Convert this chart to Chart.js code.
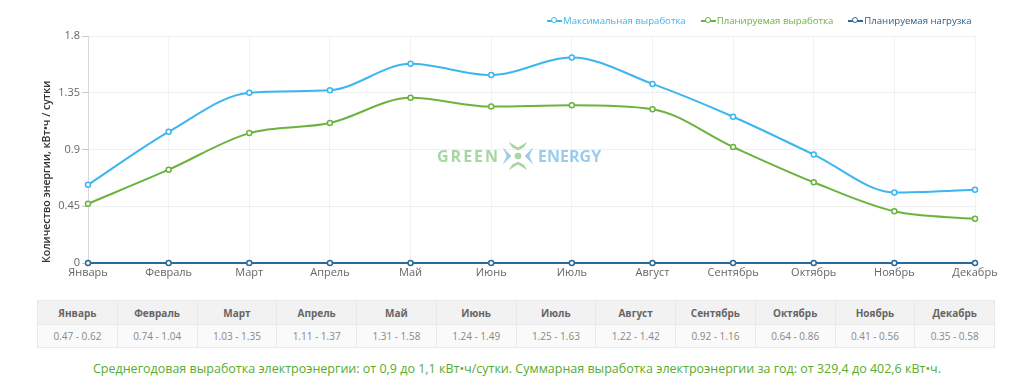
<!DOCTYPE html>
<html><head><meta charset="utf-8">
<script src="https://cdn.jsdelivr.net/npm/chart.js@4.4.1/dist/chart.umd.min.js"></script>
<style>
html,body{margin:0;padding:0;background:#fff;width:1024px;height:392px;overflow:hidden;font-family:"Open Sans",sans-serif;}
#wrap{position:absolute;left:0;top:0;width:1024px;height:290px;}
#legend{position:absolute;top:14px;left:547px;height:16px;font-size:9.6px;white-space:nowrap;}
#legend span.it{display:inline-flex;align-items:center;margin-right:15px;}
#legend span.mk{position:relative;display:inline-block;width:15px;height:10px;margin-right:1px;}
#legend span.mk i{position:absolute;left:0;top:4px;width:15px;height:2px;}
#legend span.mk b{position:absolute;left:4px;top:1.5px;width:4px;height:4px;border-radius:50%;background:#fff;border:1.5px solid;}
#wm{position:absolute;left:437px;top:139px;font-weight:700;font-size:16px;opacity:0.55;display:flex;align-items:center;}
#tbl{position:absolute;left:37px;top:300px;width:958px;border-collapse:collapse;table-layout:fixed;font-size:10px;}
#tbl td{border:1px solid #e9e9e9;text-align:center;padding:0;}
#tbl tr.h td{background:#f2f2f2;color:#666;font-weight:700;height:23px;}
#tbl tr.v td{background:#fafafa;color:#888;height:22px;}
#note{position:absolute;left:10px;width:1014px;top:360px;text-align:center;color:#58ac2e;font-size:12.5px;}
</style></head>
<body>
<div id="wrap"><canvas id="c" width="1024" height="290"></canvas></div>
<div id="legend"></div>
<div id="wm"><span style="color:#5fb35a;letter-spacing:2px">GREEN</span>
<svg width="36" height="34" viewBox="0 0 38 34" style="margin:0 2px 0 0">
<path d="M9 2 L19 8 L29 2 L25 8 L19 11 L13 8 Z" fill="#5fb35a"/>
<path d="M9 32 L19 26 L29 32 L25 26 L19 23 L13 26 Z" fill="#5fb35a"/>
<path d="M3 8 L12 17 L3 26 L7 17 Z" fill="#4aa3dd"/>
<path d="M35 8 L26 17 L35 26 L31 17 Z" fill="#4aa3dd"/>
<circle cx="19" cy="17" r="3.5" fill="#5fb35a"/>
</svg><span style="color:#4aa3dd">ENERGY</span></div>
<table id="tbl"><tr class="h" id="th"></tr><tr class="v" id="tv"></tr></table>
<div id="note">Среднегодовая выработка электроэнергии: от 0,9 до 1,1 кВт•ч/сутки. Суммарная выработка электроэнергии за год: от 329,4 до 402,6 кВт•ч.</div>
<script>
const months = ["Январь","Февраль","Март","Апрель","Май","Июнь","Июль","Август","Сентябрь","Октябрь","Ноябрь","Декабрь"];
const maxOutput = [0.62,1.04,1.35,1.37,1.58,1.49,1.63,1.42,1.16,0.86,0.56,0.58];
const plannedOutput = [0.47,0.74,1.03,1.11,1.31,1.24,1.25,1.22,0.92,0.64,0.41,0.35];
const plannedLoad = [0,0,0,0,0,0,0,0,0,0,0,0];
const yTicks = [0,0.45,0.9,1.35,1.8];
const seriesNames = ["Максимальная выработка","Планируемая выработка","Планируемая нагрузка"];
const seriesColors = ["#3cb5f0","#6cb33e","#2a6a9a"];
const seriesData = [maxOutput, plannedOutput, plannedLoad];

// legend
const lg = document.getElementById('legend');
seriesNames.forEach((n,i)=>{
  const s=document.createElement('span');s.className='it';
  s.innerHTML='<span class="mk"><i style="background:'+seriesColors[i]+'"></i><b style="border-color:'+seriesColors[i]+'"></b></span><span style="color:'+(i==2?'#2a5f8a':seriesColors[i])+'">'+n+'</span>';
  lg.appendChild(s);
});
// table
const th=document.getElementById('th'), tv=document.getElementById('tv');
months.forEach((m,i)=>{
  const a=document.createElement('td');a.textContent=m;th.appendChild(a);
  const b=document.createElement('td');b.textContent=plannedOutput[i].toFixed(2)+' - '+maxOutput[i].toFixed(2);tv.appendChild(b);
});

const ctx=document.getElementById('c');
new Chart(ctx,{
  type:'line',
  data:{labels:months,datasets:seriesData.map((d,i)=>({
    label:seriesNames[i],data:d,borderColor:seriesColors[i],backgroundColor:'#fff',
    borderWidth:2,pointRadius:2.5,pointBorderWidth:1.5,pointBackgroundColor:'#fff',pointBorderColor:seriesColors[i],
    cubicInterpolationMode:'monotone',fill:false,clip:false,order:i==2?0:3-i
  }))},
  options:{
    responsive:false,animation:false,
    layout:{padding:{left:41,right:49,top:36,bottom:0}},
    plugins:{legend:{display:false},tooltip:{enabled:false}},
    scales:{
      x:{offset:false,grid:{color:'#f2f2f2',drawTicks:false},border:{display:false},
        ticks:{color:'#666',font:{family:'Open Sans',size:11},padding:3,maxRotation:0,autoSkip:false},
        afterFit:s=>{s.height=27;}},
      y:{min:0,max:1.8,afterBuildTicks:s=>{s.ticks=yTicks.map(v=>({value:v}));},
        grid:{color:'#f0f0f0',tickColor:'#c8c8c8',tickLength:6},
        border:{color:'#d8d8d8'},
        ticks:{color:'#666',font:{family:'Open Sans',size:11},padding:2,callback:v=>String(v)},
        title:{display:true,align:'start',text:'Количество энергии, кВт•ч / сутки',color:'#333',font:{family:'Open Sans',size:10.5,weight:'600'},padding:{top:0,bottom:0}},
        afterFit:s=>{s.width=47;}}
    }
  }
});
</script>
</body></html>
